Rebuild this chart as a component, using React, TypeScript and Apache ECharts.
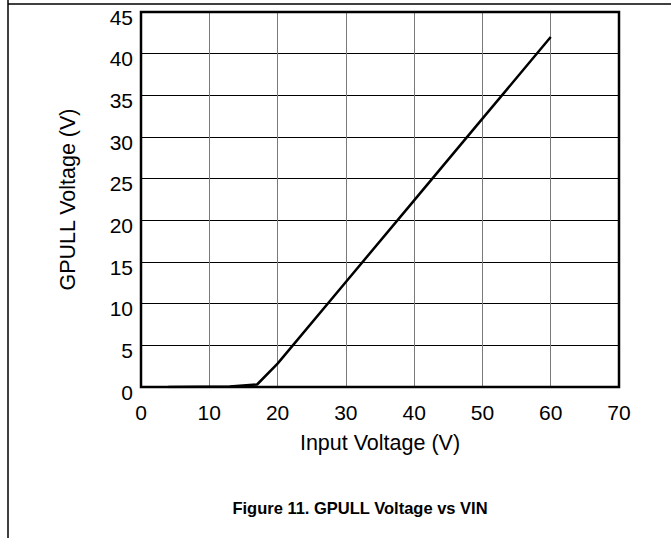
import React, { useEffect, useRef } from "react";
import * as echarts from "echarts";

const inputVoltage = [4, 13, 17, 20, 30, 40, 50, 60];
const gpullVoltage = [0, 0.05, 0.3, 2.8, 12.6, 22.4, 32.2, 42];
const xTicks = { min: 0, max: 70, interval: 10 };
const yTicks = { min: 0, max: 45, interval: 5 };
const xName = "Input Voltage (V)";
const yName = "GPULL Voltage (V)";
const figureTitle = "Figure 11. GPULL Voltage vs VIN";

const FONT = "'Liberation Sans', Arial, sans-serif";

export default function App() {
  const ref = useRef<HTMLDivElement>(null);
  useEffect(() => {
    if (!ref.current) return;
    const chart = echarts.init(ref.current, undefined, { renderer: "svg" });
    const data = inputVoltage.map((x, i) => [x, gpullVoltage[i]]);
    chart.setOption({
      animation: false,
      backgroundColor: "#ffffff",
      grid: {
        left: 141,
        right: 52,
        top: 12,
        bottom: 151,
        show: true,
        borderColor: "#000",
        borderWidth: 2.5,
        z: 10,
      },
      xAxis: {
        type: "value",
        min: xTicks.min,
        max: xTicks.max,
        interval: xTicks.interval,
        name: xName,
        nameLocation: "middle",
        nameGap: 45,
        nameTextStyle: { fontFamily: FONT, fontSize: 21.5, color: "#000", fontWeight: "normal" },
        axisLine: { show: false },
        axisTick: { show: false },
        axisLabel: { fontFamily: FONT, fontSize: 21, color: "#000", margin: 15 },
        splitLine: { show: true, lineStyle: { color: "#7a7a7a", width: 1 } },
      },
      yAxis: {
        type: "value",
        min: yTicks.min,
        max: yTicks.max,
        interval: yTicks.interval,
        name: yName,
        nameLocation: "middle",
        nameGap: 62,
        nameTextStyle: { fontFamily: FONT, fontSize: 21.5, color: "#000", fontWeight: "normal" },
        axisLine: { show: false },
        axisTick: { show: false },
        axisLabel: {
          fontFamily: FONT,
          fontSize: 21,
          color: "#000",
          margin: 8,
          verticalAlign: "top",
          lineHeight: 10,
        },
        splitLine: { show: true, lineStyle: { color: "#000", width: 1 } },
      },
      series: [
        {
          type: "line",
          data,
          showSymbol: false,
          symbol: "none",
          lineStyle: { color: "#000", width: 2.5 },
          z: 5,
        },
      ],
      graphic: [
        {
          type: "line",
          shape: { x1: 8, y1: 0, x2: 8, y2: 538 },
          style: { stroke: "#000", lineWidth: 1.5 },
        },
        {
          type: "line",
          shape: { x1: 8, y1: 4, x2: 671, y2: 4 },
          style: { stroke: "#000", lineWidth: 1.5 },
        },
        {
          type: "text",
          x: 360,
          y: 508,
          style: {
            text: figureTitle,
            fontFamily: FONT,
            fontSize: 16.5,
            fontWeight: "bold",
            fill: "#000",
            textAlign: "center",
            textVerticalAlign: "middle",
          },
        },
      ],
    });
    return () => chart.dispose();
  }, []);
  return (
    <div
      ref={ref}
      style={{ position: "fixed", left: 0, top: 0, width: 671, height: 538 }}
    />
  );
}
